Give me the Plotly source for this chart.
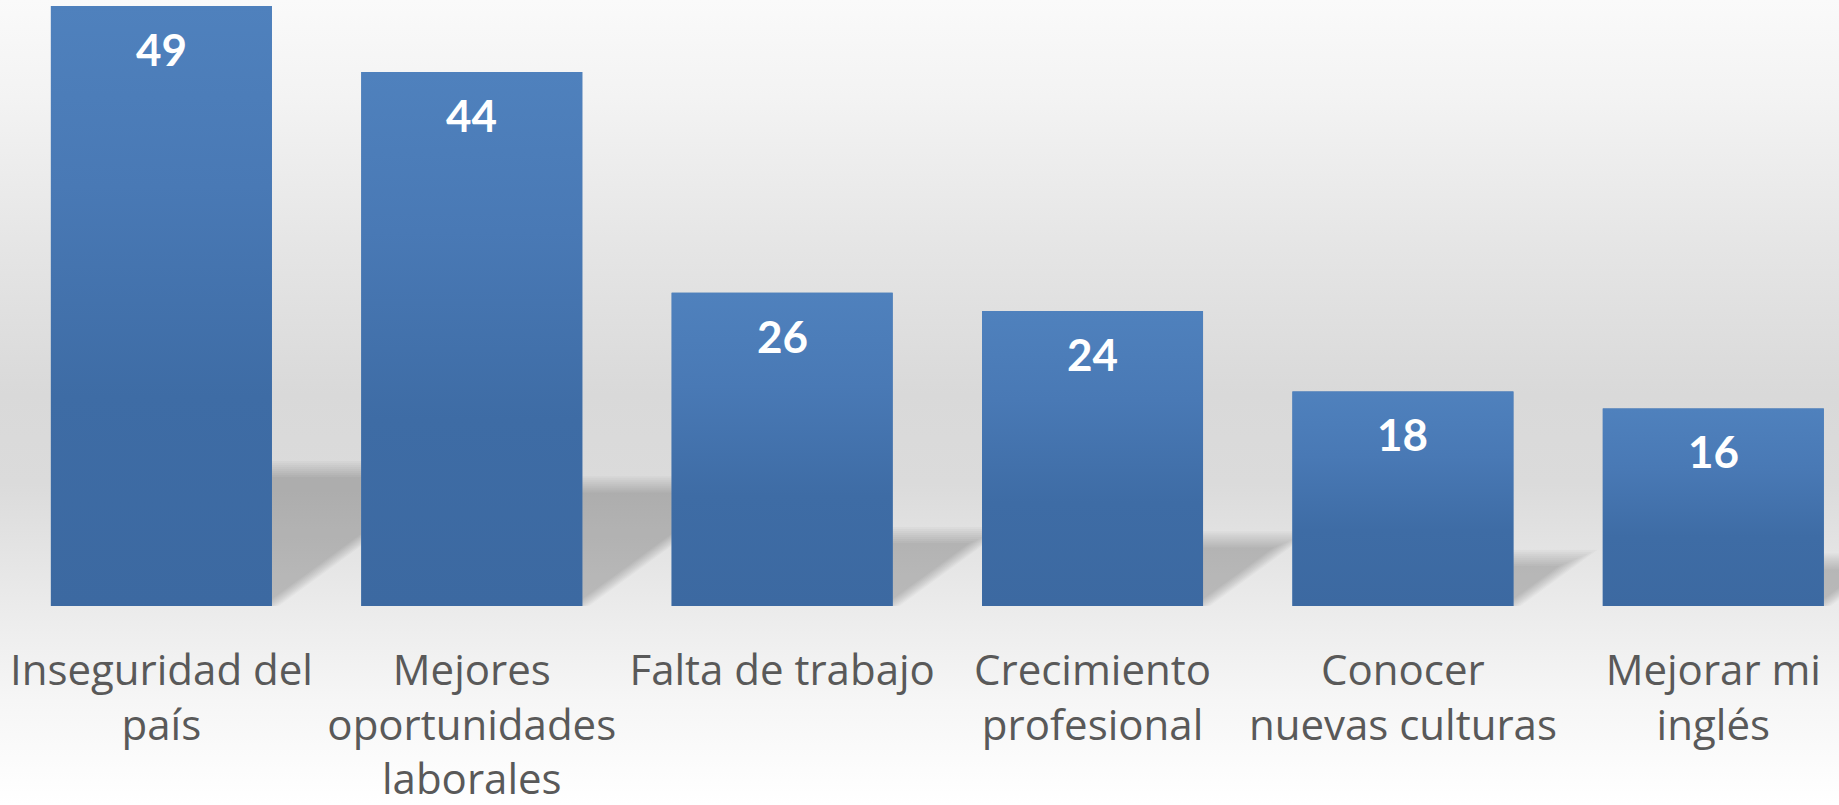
import base64
import plotly.graph_objects as go

# ---------------- data ----------------
categories = [
    "Inseguridad del<br>país",
    "Mejores<br>oportunidades<br>laborales",
    "Falta de trabajo",
    "Crecimiento<br>profesional",
    "Conocer<br>nuevas culturas",
    "Mejorar mi<br>inglés",
]
values = [49.2, 43.8, 25.7, 24.2, 17.6, 16.2]
value_labels = ["49", "44", "26", "24", "18", "16"]

# ---------------- layout constants ----------------
W, H = 1839, 805
MB = 199                      # bottom margin (floor at y=606px)
Y_MAX = 49.7
X_RANGE = [-0.52, 5.405]
BAR_W = 0.712
PX_PER_Y = (H - MB) / Y_MAX
PX_PER_X = W / (X_RANGE[1] - X_RANGE[0])

SHADOW_FRAC = 0.23            # shadow height relative to bar height
SHADOW_SLOPE = 0.73           # dy/dx (px) of the slanted shadow edge
SKEW = (PX_PER_Y / PX_PER_X) / SHADOW_SLOPE   # x units per y unit

BAR_TOP = "#4f81bd"
BAR_BOTTOM = "#3c69a1"

x_idx = list(range(len(values)))

fig = go.Figure()

# main bars
fig.add_trace(go.Bar(
    x=x_idx, y=values, width=BAR_W,
    marker=dict(color="#4677b1", line=dict(width=0)),
    customdata=value_labels,
    hovertemplate="%{customdata}<extra></extra>",
    showlegend=False,
))

# vertical gradient overlay on each bar
for i, v in zip(x_idx, values):
    xl, xr = i - BAR_W / 2, i + BAR_W / 2
    fig.add_trace(go.Scatter(
        x=[xl, xr, xr, xl, xl], y=[0, 0, v, v, 0],
        mode="none", fill="toself",
        fillgradient=dict(type="vertical", start=0, stop=v,
                          colorscale=[[0, BAR_BOTTOM], [0.35, "#3e6ca5"],
                                      [0.7, "#4979b5"], [1, BAR_TOP]]),
        hoverinfo="skip", showlegend=False,
    ))

# perspective shadows behind bars (soft, layered)
shapes = []
offsets_px = [-9, -7, -5, -3, -1, 1, 3, 5, 7]
for i, v in zip(x_idx, values):
    xl, xr = i - BAR_W / 2, i + BAR_W / 2
    hs = v * SHADOW_FRAC
    for d in offsets_px:
        dy = d / PX_PER_Y
        dx = d / PX_PER_X
        top = hs + dy
        path = (f"M {xl},0 L {xr + dx},0 "
                f"L {xr + dx + top * SKEW},{top} "
                f"L {xl + top * SKEW},{top} Z")
        shapes.append(dict(type="path", path=path, xref="x", yref="y",
                           fillcolor="rgba(0,0,0,0.022)", line=dict(width=0),
                           layer="below"))

# value labels
annotations = []
for i, v, t in zip(x_idx, values, value_labels):
    annotations.append(dict(
        x=i, y=v, xref="x", yref="y", text=t, showarrow=False,
        yanchor="middle", yshift=-43,
        font=dict(family="Lato", size=44, color="white", weight="bold"),
    ))

# background gradient
stops = [(0.0, "#fafafa"), (0.12, "#f3f3f3"), (0.31, "#e5e5e5"),
         (0.49, "#d9d9d9"), (0.60, "#dbdbdb"), (0.753, "#ebebeb"),
         (0.87, "#f6f6f6"), (1.0, "#ffffff")]
stop_xml = "".join(f"<stop offset='{o}' stop-color='{c}'/>" for o, c in stops)
svg = (f"<svg xmlns='http://www.w3.org/2000/svg' width='{W}' height='{H}' "
       f"preserveAspectRatio='none'><defs><linearGradient id='g' x1='0' y1='0' "
       f"x2='0' y2='1'>{stop_xml}</linearGradient></defs>"
       f"<rect x='0' y='0' width='{W}' height='{H}' fill='url(#g)'/></svg>")
src = "data:image/svg+xml;base64," + base64.b64encode(svg.encode()).decode()

fig.update_layout(
    width=W, height=H, autosize=False,
    margin=dict(l=0, r=0, t=0, b=MB, pad=0),
    paper_bgcolor="white", plot_bgcolor="rgba(0,0,0,0)",
    showlegend=False,
    shapes=shapes, annotations=annotations,
    images=[dict(source=src, xref="paper", yref="paper", x=0, y=1,
                 sizex=1, sizey=H / (H - MB), xanchor="left", yanchor="top",
                 sizing="stretch", layer="below")],
    xaxis=dict(range=X_RANGE, tickmode="array", tickvals=x_idx,
               ticktext=categories, showgrid=False, zeroline=False,
               showline=False, ticks="", ticklabelstandoff=36,
               tickfont=dict(family="Open Sans", size=42, color="#595959"),
               fixedrange=True),
    yaxis=dict(range=[0, Y_MAX], visible=False, fixedrange=True),
)

fig.write_html("out.html", config={"displayModeBar": False},
               post_script="document.body.style.margin='0';")
